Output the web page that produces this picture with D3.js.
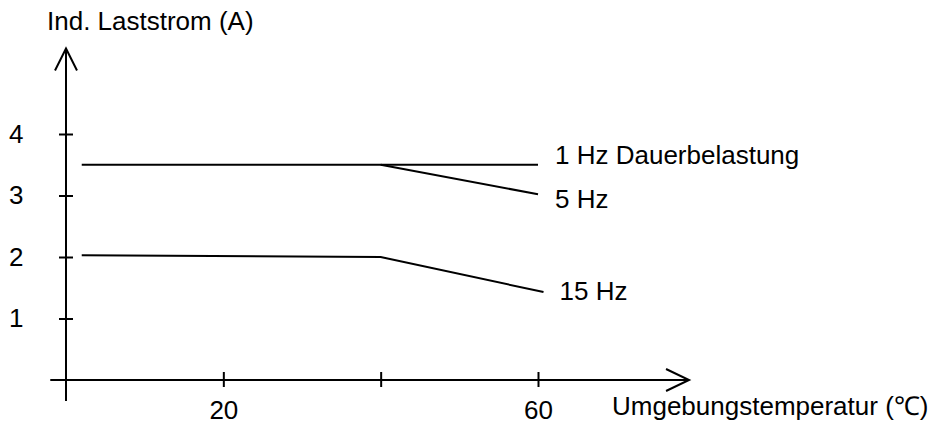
<!DOCTYPE html>
<html>
<head>
<meta charset="utf-8">
<script src="https://cdn.jsdelivr.net/npm/d3@7"></script>
<style>
  body { margin: 0; background: #fff; }
  text { font-family: "Liberation Sans", Arial, sans-serif; font-size: 26px; fill: #000; }
</style>
</head>
<body>
<div id="chart"></div>
<script>
// values
const xTicks = [20, 40, 60];
const xTickLabels = ["20", "", "60"];
const yTicks = [1, 2, 3, 4];
const yTickLabels = ["1", "2", "3", "4"];

const series1Hz = [[2, 3.5], [60, 3.5]];
const series5Hz = [[40, 3.5], [60, 3.02]];
const series15Hz = [[2, 2.03], [40, 2.0], [60.7, 1.43]];

const seriesNames = ["1 Hz Dauerbelastung", "5 Hz", "15 Hz"];
const xTitle = "Umgebungstemperatur (\u2103)";
const yTitle = "Ind. Laststrom (A)";

// axis line extents (data units)
const xAxisExtent = [-2, 79.2];
const yAxisExtent = [-0.34, 5.39];

const svgWidth = 944;
const svgHeight = 425;

const svg = d3.select("#chart")
  .append("svg")
  .attr("width", svgWidth)
  .attr("height", svgHeight);

// scale functions
const xScale = d3.scaleLinear()
                 .domain([0, 60])
                 .range([66, 538]);

const yScale = d3.scaleLinear()
                 .domain([0, 4])
                 .range([380, 134]);

// axes with ticks crossing the line
const xAxis = d3.axisBottom(xScale)
                .tickValues(xTicks)
                .tickSize(7)
                .tickPadding(28)
                .tickFormat((d, i) => xTickLabels[i]);

const yAxis = d3.axisLeft(yScale)
                .tickValues(yTicks)
                .tickSize(7)
                .tickFormat((d, i) => yTickLabels[i]);

const gx = svg.append("g")
              .attr("transform", `translate(0,${yScale(0)})`)
              .call(xAxis);

const gy = svg.append("g")
              .attr("transform", `translate(${xScale(0)},0)`)
              .call(yAxis);

gx.select(".domain").remove();
gy.select(".domain").remove();

gx.selectAll(".tick line").attr("y1", -8).attr("stroke-width", 2);
gy.selectAll(".tick line").attr("x1", 7).attr("stroke-width", 2);

gx.selectAll(".tick text")
  .attr("font-size", null)
  .attr("font-family", null)
  .attr("dy", null)
  .attr("y", 39);

gy.selectAll(".tick text")
  .attr("font-size", null)
  .attr("font-family", null)
  .attr("text-anchor", "start")
  .attr("x", -57)
  .attr("dy", "0.32em");

// main axis lines with open arrow heads
svg.append("line")
   .attr("x1", xScale(xAxisExtent[0])).attr("x2", xScale(xAxisExtent[1]))
   .attr("y1", yScale(0)).attr("y2", yScale(0))
   .attr("stroke", "#000").attr("stroke-width", 2);

svg.append("line")
   .attr("x1", xScale(0)).attr("x2", xScale(0))
   .attr("y1", yScale(yAxisExtent[0])).attr("y2", yScale(yAxisExtent[1]))
   .attr("stroke", "#000").attr("stroke-width", 2);

const xTip = [xScale(xAxisExtent[1]), yScale(0)];
svg.append("path")
   .attr("d", `M${xTip[0] - 23},${xTip[1] - 11}L${xTip[0]},${xTip[1]}L${xTip[0] - 23},${xTip[1] + 11}`)
   .attr("fill", "none").attr("stroke", "#000").attr("stroke-width", 2);

const yTip = [xScale(0), yScale(yAxisExtent[1])];
svg.append("path")
   .attr("d", `M${yTip[0] - 11},${yTip[1] + 22}L${yTip[0]},${yTip[1]}L${yTip[0] + 11},${yTip[1] + 22}`)
   .attr("fill", "none").attr("stroke", "#000").attr("stroke-width", 2);

// curves
const line = d3.line()
               .x(d => xScale(d[0]))
               .y(d => yScale(d[1]));

const allSeries = [series1Hz, series5Hz, series15Hz];

svg.selectAll(".curve")
   .data(allSeries)
   .enter()
   .append("path")
   .attr("class", "curve")
   .attr("d", line)
   .attr("fill", "none")
   .attr("stroke", "#000")
   .attr("stroke-width", 2);

// series labels next to line ends
const labelOffsets = [[17, 0], [17, 14], [16, 8]];
svg.selectAll(".serieslabel")
   .data(allSeries)
   .enter()
   .append("text")
   .attr("class", "serieslabel")
   .attr("x", (d, i) => xScale(d[d.length - 1][0]) + labelOffsets[i][0])
   .attr("y", (d, i) => yScale(d[d.length - 1][1]) + labelOffsets[i][1])
   .attr("dy", "-0.02em")
   .text((d, i) => seriesNames[i]);

// axes titles
svg.append("text")
   .attr("x", 47)
   .attr("y", 30)
   .text(yTitle);

svg.append("text")
   .attr("x", 612)
   .attr("y", 415)
   .text(xTitle);
</script>
</body>
</html>
